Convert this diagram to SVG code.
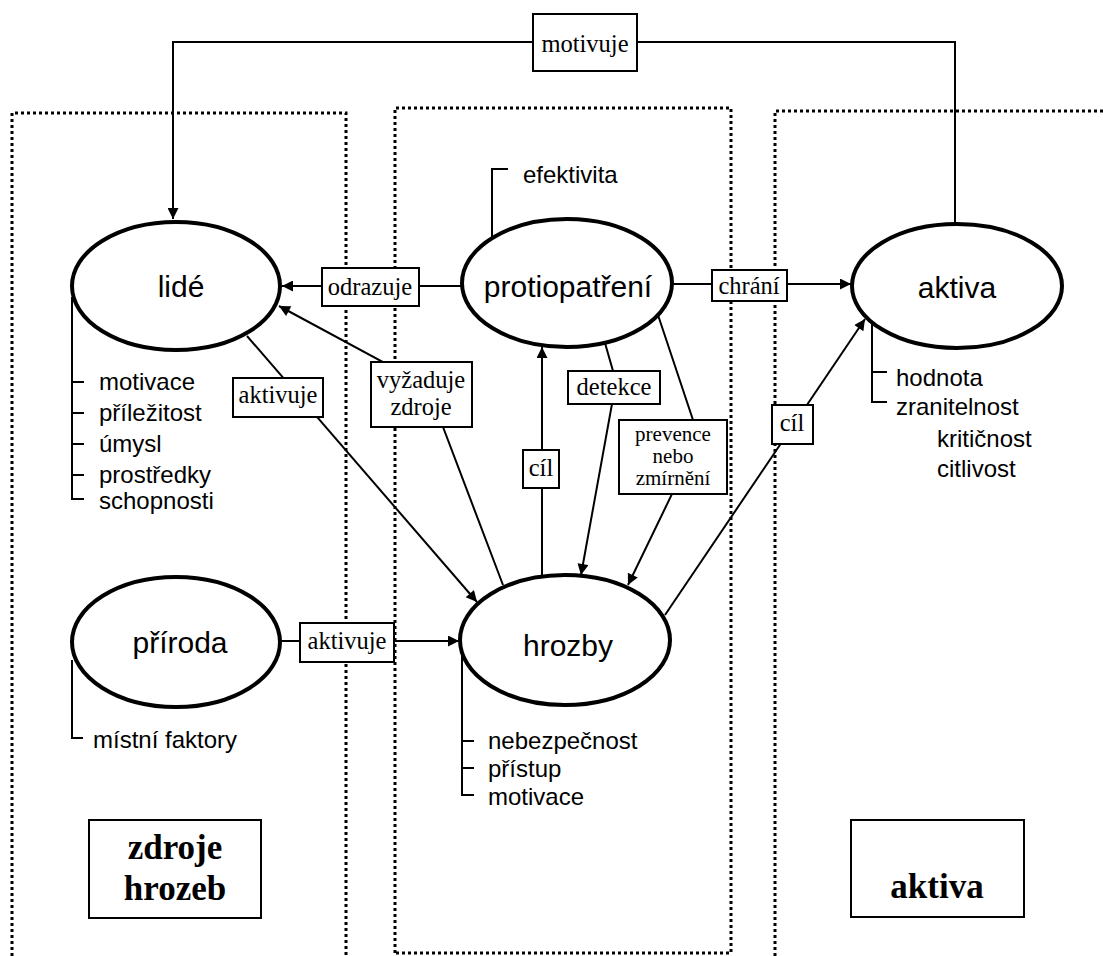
<svg xmlns="http://www.w3.org/2000/svg" width="1103" height="956" viewBox="0 0 1103 956">
<style>
.dot{fill:none;stroke:#000;stroke-width:3;stroke-dasharray:3 3}
.ell{fill:#fff;stroke:#000;stroke-width:4}
.ln{fill:none;stroke:#000;stroke-width:2}
.box{fill:#fff;stroke:#000;stroke-width:2}
.nl{font-family:"Liberation Sans",Arial,sans-serif;font-size:30px;text-anchor:middle;fill:#000}
.at{font-family:"Liberation Sans",Arial,sans-serif;font-size:24px;fill:#000}
.lb{font-family:"Liberation Serif","Times New Roman",serif;font-size:24.5px;text-anchor:middle;fill:#000}
.lbs{font-family:"Liberation Serif","Times New Roman",serif;font-size:21px;text-anchor:middle;fill:#000}
.big{font-family:"Liberation Serif","Times New Roman",serif;font-size:35px;font-weight:bold;text-anchor:middle;fill:#000}
</style>
<defs>
<marker id="ah" viewBox="0 0 10 10" refX="10" refY="5" markerWidth="14" markerHeight="11" markerUnits="userSpaceOnUse" orient="auto"><path d="M0,0 L10,5 L0,10 z" fill="#000"/></marker>
</defs>
<rect width="1103" height="956" fill="#fff"/>
<g id="zones">
<path class="dot" d="M12,956 V113 H346 V956"/>
<path class="dot" d="M395,953 V108 H731 V953 Z"/>
<path class="dot" d="M1103,111 H775 V956"/>
</g>
<g id="connectors">
<path class="ln" d="M955,224 V42 H173 V219" marker-end="url(#ah)"/>
<path class="ln" d="M462,286 H282" marker-end="url(#ah)"/>
<path class="ln" d="M672,284 H851" marker-end="url(#ah)"/>
<path class="ln" d="M247,336 L477,602" marker-end="url(#ah)"/>
<path class="ln" d="M503,585 L443,427 L383,362 L279,306" marker-end="url(#ah)"/>
<path class="ln" d="M542,576 V347" marker-end="url(#ah)"/>
<path class="ln" d="M605,343 L613,371 L612,404 L581,575" marker-end="url(#ah)"/>
<path class="ln" d="M658,315 L693,420 L672,494 L628,585" marker-end="url(#ah)"/>
<path class="ln" d="M665,615 L865,319" marker-end="url(#ah)"/>
<path class="ln" d="M280,641 H459" marker-end="url(#ah)"/>
<g id="lbl-motivuje"><rect class="box" x="533" y="14" width="104" height="57"/><text class="lb" x="585" y="52">motivuje</text></g>
<g id="lbl-odrazuje"><rect class="box" x="322" y="268" width="97" height="38"/><text class="lb" x="370" y="295">odrazuje</text></g>
<g id="lbl-chrani"><rect class="box" x="712" y="270" width="75" height="31"/><text class="lb" x="749" y="294">chrání</text></g>
<g id="lbl-aktivuje1"><rect class="box" x="233" y="378" width="90" height="39"/><text class="lb" x="278" y="403">aktivuje</text></g>
<g id="lbl-vyzaduje"><rect class="box" x="371" y="362" width="101" height="65"/><text class="lb" x="421" y="388">vyžaduje</text><text class="lb" x="421" y="415">zdroje</text></g>
<g id="lbl-cil1"><rect class="box" x="523" y="450" width="36" height="38"/><text class="lb" x="541" y="476">cíl</text></g>
<g id="lbl-detekce"><rect class="box" x="568" y="371" width="92" height="33"/><text class="lb" x="614" y="395">detekce</text></g>
<g id="lbl-prevence"><rect class="box" x="619" y="420" width="108" height="74"/><text class="lbs" x="673" y="441">prevence</text><text class="lbs" x="673" y="463">nebo</text><text class="lbs" x="673" y="485">zmírnění</text></g>
<g id="lbl-cil2"><rect class="box" x="772" y="405" width="41" height="39"/><text class="lb" x="792" y="431">cíl</text></g>
<g id="lbl-aktivuje2"><rect class="box" x="300" y="623" width="94" height="39"/><text class="lb" x="347" y="649">aktivuje</text></g>
</g>
<g id="lide">
<ellipse class="ell" cx="176" cy="286" rx="104" ry="64"/>
<text class="nl" x="181" y="297">lidé</text>
<path class="ln" d="M72,297 V499 H84 M72,382 H84 M72,413 H84 M72,444 H84 M72,475 H84"/>
<text class="at" x="99" y="390">motivace</text>
<text class="at" x="99" y="421">příležitost</text>
<text class="at" x="99" y="452">úmysl</text>
<text class="at" x="99" y="483">prostředky</text>
<text class="at" x="99" y="509">schopnosti</text>
</g>
<g id="protiopatreni">
<ellipse class="ell" cx="567" cy="283" rx="105" ry="64"/>
<text class="nl" x="568" y="297">protiopatření</text>
<path class="ln" d="M492,237 V169 H508"/>
<text class="at" x="523" y="183">efektivita</text>
</g>
<g id="aktiva">
<ellipse class="ell" cx="957" cy="286" rx="105" ry="62"/>
<text class="nl" x="957" y="298">aktiva</text>
<path class="ln" d="M872,322 V402 H887 M872,372 H887"/>
<text class="at" x="896" y="386">hodnota</text>
<text class="at" x="896" y="415">zranitelnost</text>
<text class="at" x="937" y="447">kritičnost</text>
<text class="at" x="937" y="477">citlivost</text>
</g>
<g id="priroda">
<ellipse class="ell" cx="176" cy="642" rx="104" ry="65"/>
<text class="nl" x="180" y="653">příroda</text>
<path class="ln" d="M72,660 V738 H83"/>
<text class="at" x="93" y="748">místní faktory</text>
</g>
<g id="hrozby">
<ellipse class="ell" cx="565" cy="640" rx="105" ry="65"/>
<text class="nl" x="568" y="656">hrozby</text>
<path class="ln" d="M462,652 V795 H474 M462,741 H474 M462,768 H474"/>
<text class="at" x="488" y="749">nebezpečnost</text>
<text class="at" x="488" y="777">přístup</text>
<text class="at" x="488" y="805">motivace</text>
</g>
<g id="zdroje-hrozeb">
<rect class="box" x="89" y="820" width="172" height="98"/>
<text class="big" x="175" y="859">zdroje</text>
<text class="big" x="175" y="900">hrozeb</text>
</g>
<g id="aktiva-title">
<rect class="box" x="851" y="820" width="173" height="97"/>
<text class="big" x="937" y="898">aktiva</text>
</g>
</svg>
